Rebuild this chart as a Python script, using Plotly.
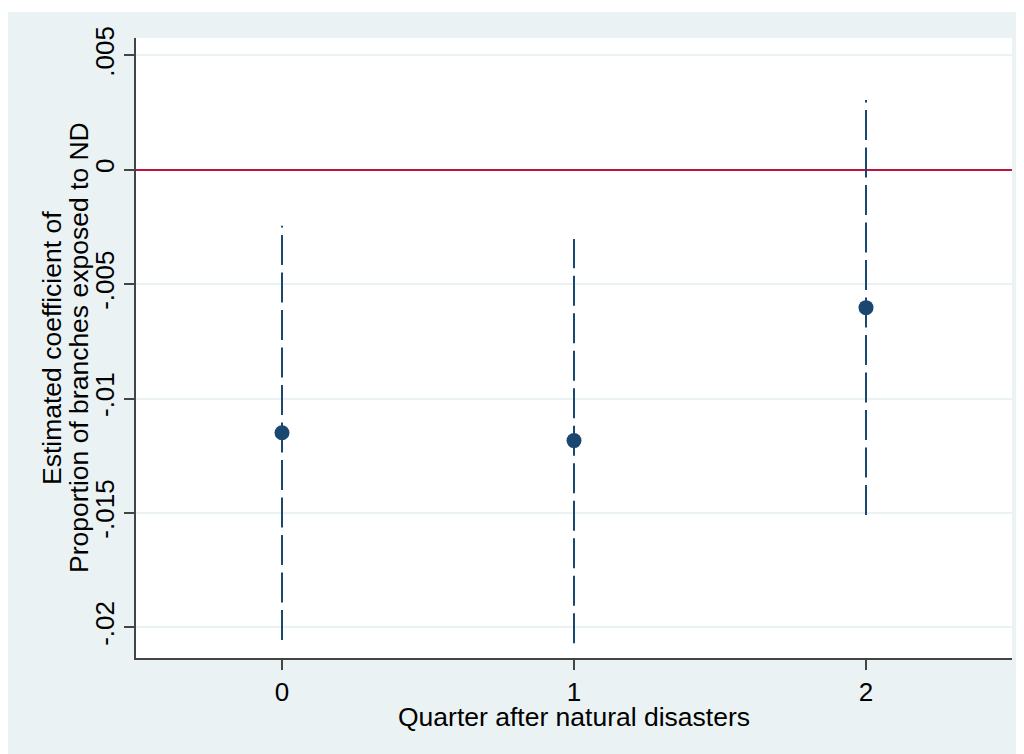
import plotly.graph_objects as go

# Data
quarters = [0, 1, 2]
coef = [-0.01150, -0.01184, -0.00603]
ci_low = [-0.02056, -0.02070, -0.01509]
ci_high = [-0.00245, -0.00303, 0.00305]

ytick_vals = [0.005, 0, -0.005, -0.01, -0.015, -0.02]
ytick_text = [".005", "0", "-.005", "-.01", "-.015", "-.02"]
xtick_vals = [0, 1, 2]
xtick_text = ["0", "1", "2"]

# page body has an 8px margin, so the figure fills the rest of the window
W, H = 1016, 746
ML, MR, MT, MB = 128, 12, 30, 96
PW, PH = W - ML - MR, H - MT - MB

NAVY = "#1A476F"
PANEL = "#EAF2F3"
FONT = "Liberation Sans, Arial, sans-serif"

def px_x(p):
    return (p - ML) / PW

def px_y(p):
    return 1 - (p - MT) / PH

fig = go.Figure()

for q, lo, hi in zip(quarters, ci_low, ci_high):
    fig.add_trace(go.Scatter(
        x=[q, q], y=[lo, hi], mode="lines",
        line=dict(color=NAVY, width=2, dash="30px,7.5px"),
        showlegend=False, hoverinfo="skip"))

fig.add_trace(go.Scatter(
    x=quarters, y=coef, mode="markers",
    marker=dict(color=NAVY, size=15, line=dict(width=0)),
    showlegend=False))

shapes = [
    # thin white strip above the light panel
    dict(type="rect", xref="paper", yref="paper", layer="below",
         x0=px_x(-5), x1=px_x(W + 5), y0=px_y(4), y1=px_y(-5),
         fillcolor="white", line=dict(width=0)),
]

annotations = [
    dict(text="Estimated coefficient of", xref="paper", yref="paper",
         x=px_x(44), y=0.5, xanchor="center", yanchor="middle",
         textangle=-90, showarrow=False,
         font=dict(family=FONT, size=26.5, color="black")),
    dict(text="Proportion of branches exposed to ND", xref="paper", yref="paper",
         x=px_x(71), y=0.5, xanchor="center", yanchor="middle",
         textangle=-90, showarrow=False,
         font=dict(family=FONT, size=26.5, color="black")),
    dict(text="Quarter after natural disasters", xref="paper", yref="paper",
         x=0.5, y=px_y(709), xanchor="center", yanchor="middle",
         showarrow=False,
         font=dict(family=FONT, size=26.5, color="black")),
]

fig.update_layout(
    width=W, height=H,
    margin=dict(l=ML, r=MR, t=MT, b=MB, pad=0),
    paper_bgcolor=PANEL, plot_bgcolor="white",
    font=dict(family=FONT, size=26, color="black"),
    shapes=shapes, annotations=annotations,
    showlegend=False,
)

fig.update_xaxes(
    range=[-0.5, 2.5], tickvals=xtick_vals, ticktext=xtick_text,
    showgrid=False, zeroline=False,
    showline=True, linecolor="#444444", linewidth=2,
    ticks="outside", ticklen=10, tickwidth=2, tickcolor="#444444",
    tickfont=dict(family=FONT, size=26, color="black"),
)

fig.update_yaxes(
    range=[-0.021342, 0.005756], tickvals=ytick_vals, ticktext=ytick_text,
    showgrid=True, gridcolor=PANEL, gridwidth=2,
    zeroline=True, zerolinecolor="#C0143C", zerolinewidth=2,
    showline=True, linecolor="#444444", linewidth=2,
    ticks="outside", ticklen=10, tickwidth=2, tickcolor="#444444",
    tickangle=-90,
    tickfont=dict(family=FONT, size=26, color="black"),
)

fig.write_html("out.html")
